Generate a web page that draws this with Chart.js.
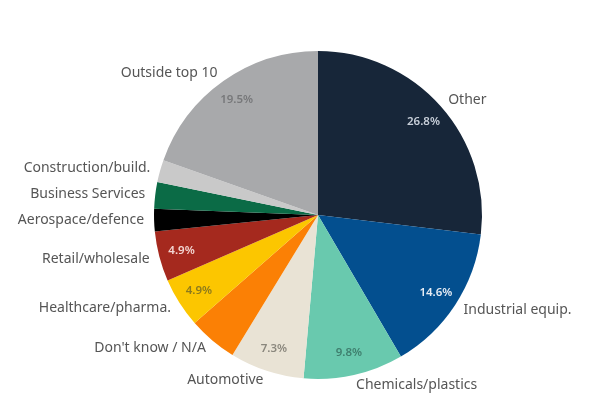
<!DOCTYPE html>
<html>
<head>
<meta charset="utf-8">
<script src="https://cdn.jsdelivr.net/npm/chart.js@4.4.1/dist/chart.umd.min.js"></script>
<style>
  html, body { margin: 0; padding: 0; background: #ffffff; }
  #wrap { width: 616px; height: 416px; position: relative; }
</style>
</head>
<body>
<div id="wrap"><canvas id="c" width="616" height="416"></canvas></div>
<script>
// Sector shares, clockwise from 12 o'clock
const sectors = [
  'Other', 'Industrial equip.', 'Chemicals/plastics', 'Automotive',
  "Don't know / N/A", 'Healthcare/pharma.', 'Retail/wholesale',
  'Aerospace/defence', 'Business Services', 'Construction/build.', 'Outside top 10'
];
const shares = [26.8, 14.6, 9.8, 7.3, 4.8, 4.9, 4.9, 2.2, 2.6, 2.2, 19.5];
// which slices carry a percentage inside
const showShare = [true, true, true, true, false, true, true, false, false, false, true];

const sliceColors = [
  '#172639', '#034f8f', '#69c9ae', '#e9e3d5', '#fb8005', '#fcc600',
  '#a5291e', '#000000', '#0b6b46', '#c9c9c9', '#a8a9ab'
];
const shareTextColors = [
  '#c9d0da', '#e6ecf4', '#3f7f6e', '#8a877d', '#ffffff', '#8c7a1c',
  '#f3d6d2', '#ffffff', '#ffffff', '#ffffff', '#77787a'
];

const sliceLabels = {
  id: 'sliceLabels',
  afterDatasetsDraw(chart) {
    const ctx = chart.ctx;
    const meta = chart.getDatasetMeta(0);
    ctx.save();
    ctx.textBaseline = 'middle';
    meta.data.forEach((arc, i) => {
      const p = arc.getProps(['x', 'y', 'startAngle', 'endAngle', 'outerRadius'], true);
      const mid = (p.startAngle + p.endAngle) / 2;
      const cos = Math.cos(mid), sin = Math.sin(mid);

      // category name just outside the rim
      const ro = p.outerRadius + 10;
      ctx.font = '400 14px "Noto Sans", "Open Sans", sans-serif';
      ctx.fillStyle = '#555555';
      ctx.textAlign = cos >= 0 ? 'left' : 'right';
      ctx.fillText(sectors[i], p.x + cos * ro, p.y + sin * ro);

      // share inside the slice
      if (showShare[i]) {
        const ri = p.outerRadius * 0.86;
        ctx.font = '600 11.5px "Noto Sans", "Open Sans", sans-serif';
        ctx.fillStyle = shareTextColors[i];
        ctx.textAlign = 'center';
        ctx.fillText(shares[i].toFixed(1) + '%', p.x + cos * ri, p.y + sin * ri);
      }
    });
    ctx.restore();
  }
};

new Chart(document.getElementById('c'), {
  type: 'pie',
  data: {
    labels: sectors,
    datasets: [{
      data: shares,
      backgroundColor: sliceColors,
      borderWidth: 0
    }]
  },
  options: {
    responsive: false,
    animation: false,
    layout: { padding: { top: 51, bottom: 37, left: 20, right: 0 } },
    plugins: {
      legend: { display: false },
      tooltip: { enabled: false }
    }
  },
  plugins: [sliceLabels]
});
</script>
</body>
</html>
